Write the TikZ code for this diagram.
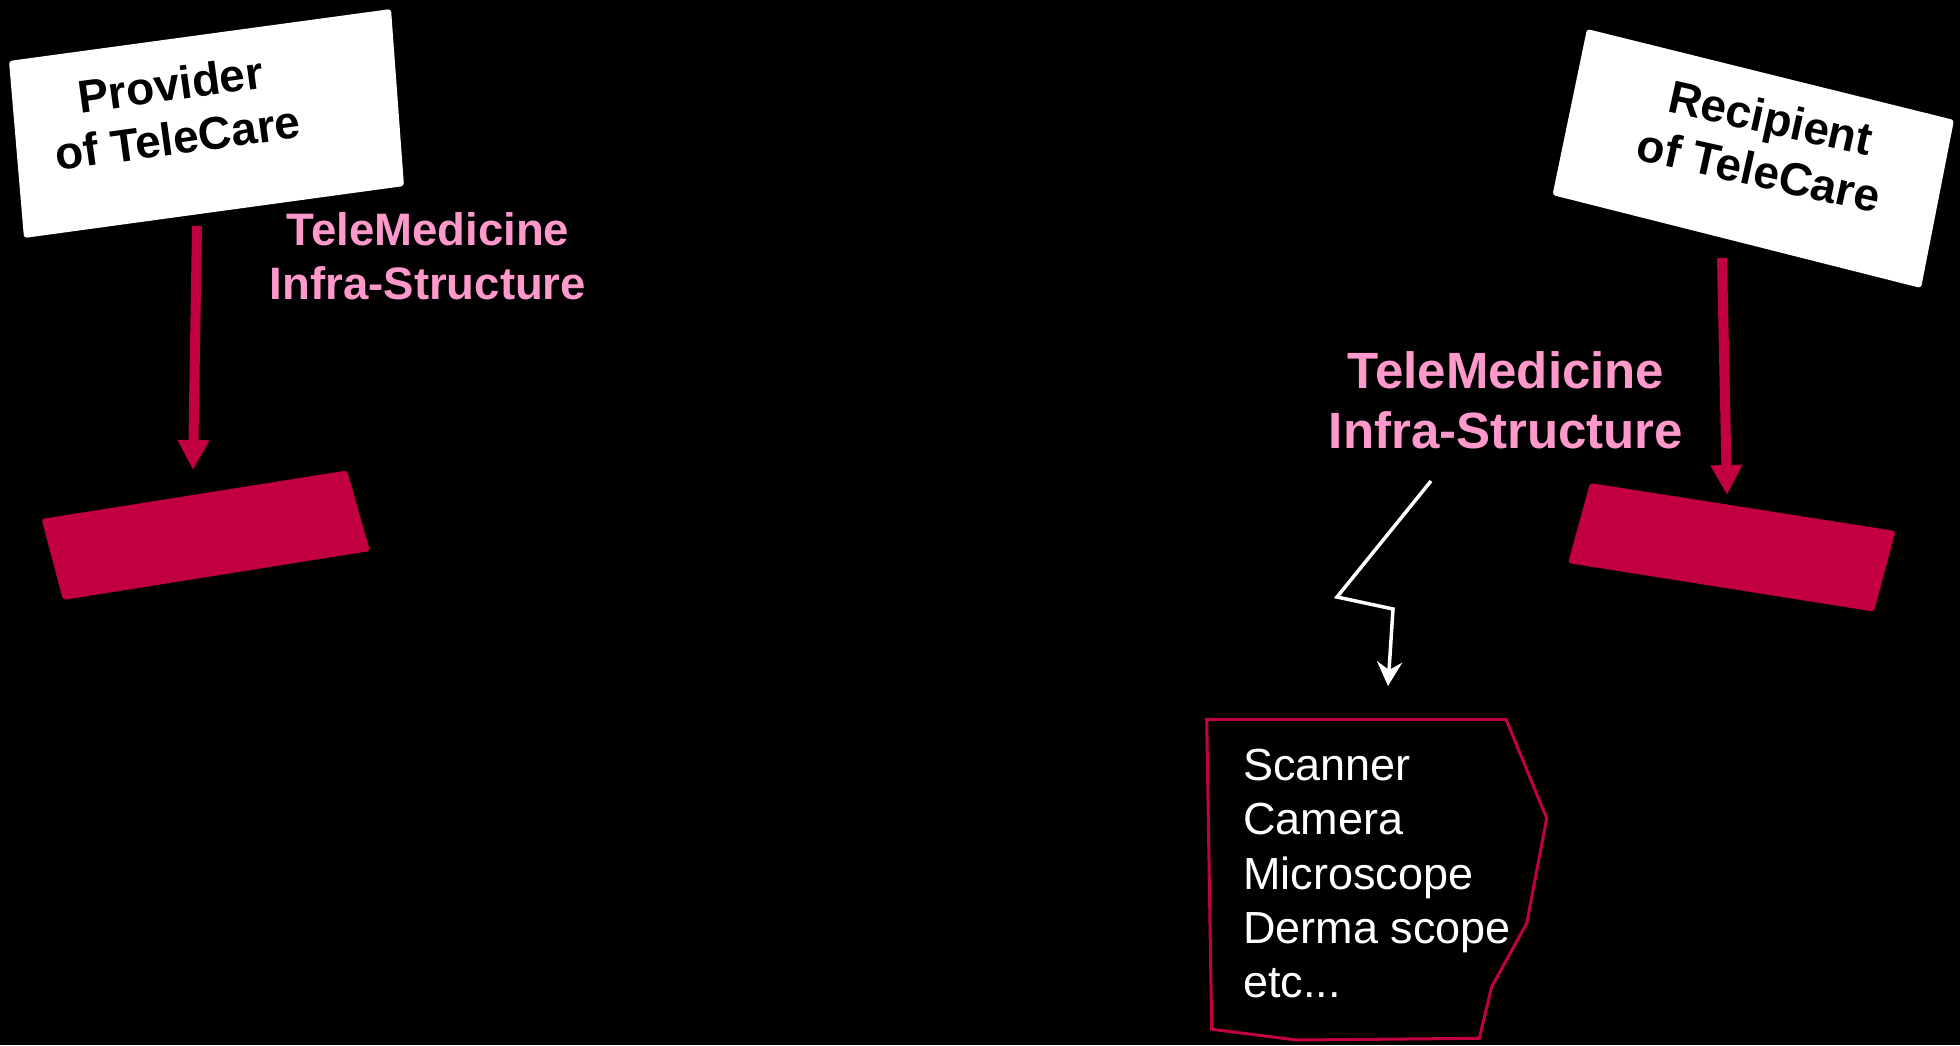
\documentclass[tikz,border=0pt]{standalone}
\usepackage{fontspec}
\setmainfont{Liberation Sans}
\usetikzlibrary{arrows.meta}
\definecolor{crimson}{RGB}{194,0,64}
\definecolor{pinktxt}{RGB}{255,153,204}
\begin{document}
\begin{tikzpicture}[x=1pt,y=-1pt,
  signbox/.style={fill=white,rounded corners=3pt},
  padbox/.style={fill=crimson,rounded corners=3pt},
  signtext/.style={text=black,font=\bfseries\fontsize{46}{54}\selectfont,align=center,inner sep=0pt},
  infratext/.style={text=pinktxt,font=\bfseries\fontsize{45.5}{54}\selectfont,align=center,inner sep=0pt},
  bigarrow/.style={draw=crimson,line width=10pt,-{Triangle[width=30pt,length=30pt]}},
  boltarrow/.style={draw=white,line width=3.5pt,-{Stealth[width=25pt,length=24pt,inset=8pt]}},
  devbox/.style={draw=crimson,line width=3pt,line join=miter},
  listtext/.style={text=white,font=\fontsize{45}{54.3}\selectfont,align=left,inner sep=0pt}
]
\fill[black] (0,0) rectangle (1960,1045);
\useasboundingbox (0,0) rectangle (1960,1045);

% provider sign
\fill[signbox] (9,61) -- (391,9) -- (404,186) -- (24,238) -- cycle;
\node[signtext,rotate=7.8] (prov) at (174,111) {Provider\\of TeleCare};

% recipient sign
\fill[signbox] (1587,29) -- (1954,120) -- (1921,288) -- (1552.5,195) -- cycle;
\node[signtext,rotate=-12.5] (recip) at (1765,144) {Recipient\\of TeleCare};

% crimson pads
\fill[padbox] (41.5,519) -- (347,470.5) -- (370,551) -- (63,600) -- cycle;
\fill[padbox] (1590,483) -- (1895.5,531) -- (1874,611.6) -- (1568,563) -- cycle;

% infrastructure labels
\node[infratext] (infra1) at (428,256.5) {TeleMedicine\\Infra-Structure};
\node[infratext,font=\bfseries\fontsize{51}{60}\selectfont] (infra2) at (1506,400) {TeleMedicine\\Infra-Structure};

% vertical arrows
\coordinate (a1s) at (197,226);
\coordinate (a1e) at (193,470);
\draw[bigarrow] (a1s) -- (a1e);
\coordinate (a2s) at (1722,258);
\coordinate (a2e) at (1727,495);
\draw[bigarrow] (a2s) -- (a2e);

% lightning connector
\coordinate (b0) at (1431,481);
\coordinate (b1) at (1337,597);
\coordinate (b2) at (1393,609);
\coordinate (b3) at (1388,686);
\draw[boltarrow] (b0) -- (b1) -- (b2) -- (b3);

% device box
\draw[devbox] (1206.7,719.3) -- (1506,719.3) -- (1546.7,818.3) -- (1526.7,923.3)
  -- (1491.7,986.7) -- (1479.3,1038.3) -- (1296.7,1040) -- (1211.7,1029.3) -- cycle;
\node[listtext,anchor=west] (devices) at (1243,873.5) {Scanner\\Camera\\Microscope\\Derma scope\\etc...};
\end{tikzpicture}
\end{document}
